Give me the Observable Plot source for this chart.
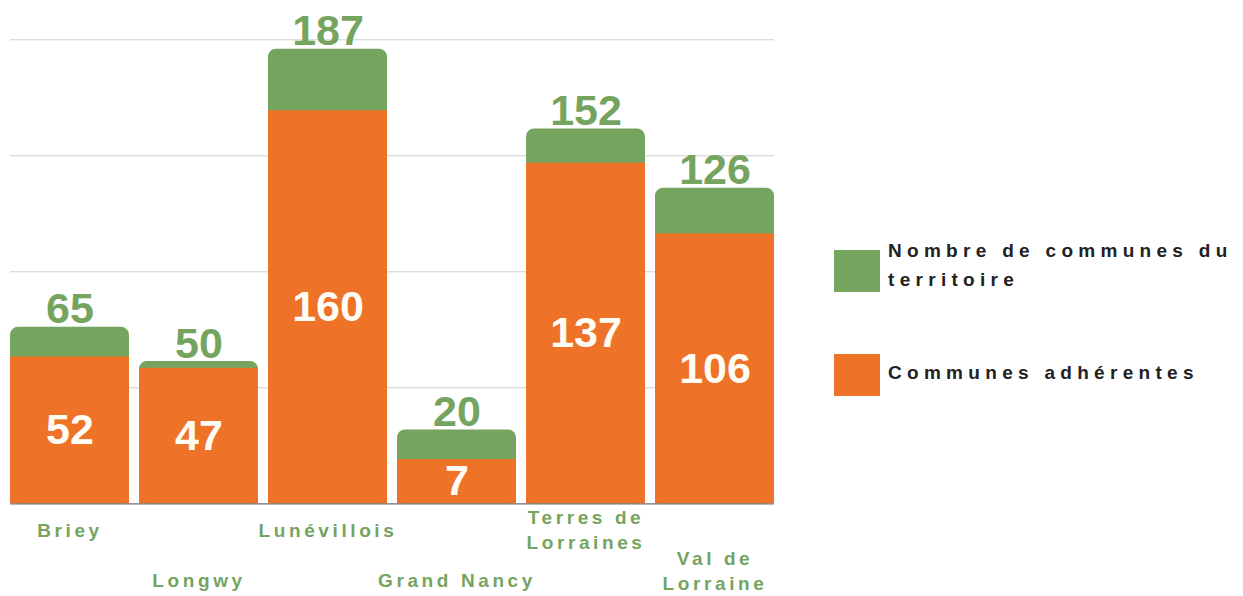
<!DOCTYPE html>
<html>
<head>
<meta charset="utf-8">
<script src="https://cdn.jsdelivr.net/npm/d3@7"></script>
<script src="https://cdn.jsdelivr.net/npm/@observablehq/plot@0.6"></script>
<style>
  html, body { margin: 0; padding: 0; background: #fff; overflow: hidden; }
  body { font-family: "Liberation Sans", Arial, sans-serif; }
  #wrap { position: relative; width: 1243px; height: 596px; overflow: hidden; }
  #chart { position: absolute; left: 0; top: 0; }
  .sw { position: absolute; left: 834px; width: 46px; height: 42px; }
  .lt { position: absolute; left: 888px; width: 358px; font-size: 19px; line-height: 29px;
        font-weight: bold; letter-spacing: 5.3px; color: #222; }
</style>
</head>
<body>
<div id="wrap">
  <div id="chart"></div>
  <div id="legend"></div>
</div>
<script>
// ---- data ----
const territories = ["Briey", "Longwy", "Lunévillois", "Grand Nancy", "Terres de Lorraines", "Val de Lorraine"];
const tickLabels = ["Briey", "Longwy", "Lunévillois", "Grand Nancy", "Terres de\nLorraines", "Val de\nLorraine"];
const totalCommunes = [65, 50, 187, 20, 152, 126];
const adherentCommunes = [52, 47, 160, 7, 137, 106];
const seriesNames = ["Nombre de communes du territoire", "Communes adhérentes"];
const seriesColors = ["#75A45F", "#EE7227"];

// ---- scale settings (the original bars sit on a raised baseline) ----
const yMin = -12.4, yMax = 191.1;
const gridValues = d3.range(1, 5).map(i => yMin + i * (yMax - yMin) / 4);

const rows = territories.map((t, i) => ({
  territory: t, label: tickLabels[i], total: totalCommunes[i], adherent: adherentCommunes[i],
  row: i % 2, lines: tickLabels[i].split("\n").length
}));

const green = seriesColors[0], orange = seriesColors[1];

// label groups: [row parity, line count, vertical offset below the frame]
const labelGroups = [[0, 1, 25.6], [0, 2, 24.5], [1, 1, 75.6], [1, 2, 66]];

const chart = Plot.plot({
  width: 800,
  height: 596,
  marginLeft: 10,
  marginRight: 26,
  marginTop: 39.3,
  marginBottom: 92.7,
  x: { domain: territories, paddingInner: 0.078, paddingOuter: 0, axis: null },
  y: { domain: [yMin, yMax], axis: null },
  style: { fontFamily: '"Liberation Sans", Arial, sans-serif', background: "white", overflow: "visible" },
  marks: [
    Plot.ruleY(gridValues, { stroke: "#cfcfcf", strokeWidth: 1 }),
    Plot.barY(rows, { x: "territory", y1: yMin, y2: "total", fill: green, rx: 8 }),
    Plot.barY(rows, { x: "territory", y1: yMin, y2: "adherent", fill: orange }),
    Plot.ruleY([yMin], { stroke: "#6e6e6e", strokeWidth: 1.3 }),
    Plot.text(rows, { x: "territory", y: "total", text: d => String(d.total), lineAnchor: "bottom", dy: -4,
      fill: green, fontSize: 43, fontWeight: "bold" }),
    Plot.text(rows, { x: "territory", y: d => (yMin + d.adherent) / 2, text: d => String(d.adherent), lineAnchor: "middle",
      fill: "#fffdf5", fontSize: 43, fontWeight: "bold" }),
    ...labelGroups.map(([r, n, off]) =>
      Plot.text(rows.filter(d => d.row === r && d.lines === n), { x: "territory", text: "label", frameAnchor: "bottom", dy: off,
        lineAnchor: "middle", lineHeight: 1.32, fill: green, fontSize: 19, fontWeight: "bold" }))
  ]
});

// letter-spaced category labels
const textGroups = d3.select(chart).selectAll('g[aria-label="text"]').nodes();
textGroups.slice(2).forEach(g => g.setAttribute("letter-spacing", "3.6px"));

document.getElementById("chart").appendChild(chart);

// ---- legend ----
const legend = document.getElementById("legend");
const swatchTops = [250, 354];
const textTops = [236, 357.5];
seriesNames.forEach((name, i) => {
  const sw = document.createElement("div");
  sw.className = "sw";
  sw.style.top = swatchTops[i] + "px";
  sw.style.background = seriesColors[i];
  legend.appendChild(sw);
  const t = document.createElement("div");
  t.className = "lt";
  t.style.top = textTops[i] + "px";
  t.textContent = name;
  legend.appendChild(t);
});
</script>
</body>
</html>
